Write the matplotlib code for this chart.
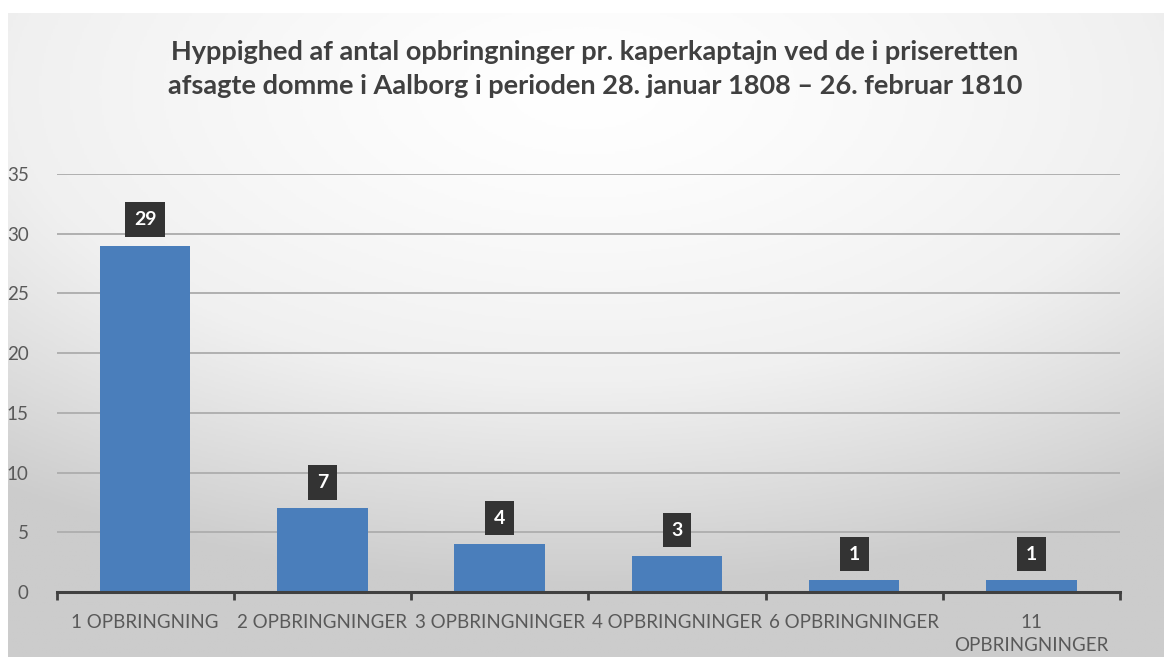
import matplotlib
matplotlib.use('Agg')
import numpy as np
from matplotlib import pyplot as plt
from matplotlib.colors import LinearSegmentedColormap

# data
categories = ['1 OPBRINGNING', '2 OPBRINGNINGER', '3 OPBRINGNINGER',
              '4 OPBRINGNINGER', '6 OPBRINGNINGER', '11\nOPBRINGNINGER']
counts = [29, 7, 4, 3, 1, 1]
yticks = [0, 5, 10, 15, 20, 25, 30, 35]
title = ('Hyppighed af antal opbringninger pr. kaperkaptajn ved de i priseretten\n'
         'afsagte domme i Aalborg i perioden 28. januar 1808 \u2013 26. februar 1810')

W, H = 1164, 657
fig = plt.figure(figsize=(W / 100, H / 100), dpi=100)
fig.patch.set_facecolor('white')

# radial gradient background of the chart area
bg = fig.add_axes([8 / W, 0, 1 - 8 / W, 1 - 13 / H], zorder=-5)
yy, xx = np.mgrid[0:1:300j, 0:1:500j]
r = np.sqrt(((xx - 0.5) * 1.0) ** 2 + ((yy - 0.12) * 1.1) ** 2)
r = np.clip(r / 0.85, 0, 1) ** 1.3
cmap = LinearSegmentedColormap.from_list('bg', ['#ffffff', '#f0f0f0', '#cccccc'])
bg.imshow(r, cmap=cmap, aspect='auto', extent=[0, 1, 1, 0])
bg.axis('off')

ax = fig.add_axes([56.5 / W, 1 - 592 / H, (1120 - 56.5) / W, (592 - 174) / H])
ax.patch.set_alpha(0)

x = np.arange(len(categories))
bars = ax.bar(x, counts, width=0.51, color='#4a7ebb', zorder=3)

for xi, v in zip(x, counts):
    ax.annotate(str(v), (xi, v), xytext=(0, 26), textcoords='offset pixels',
                ha='center', va='center', color='white', fontsize=14,
                fontweight='bold', family='Lato', zorder=5,
                bbox=dict(boxstyle='square,pad=0.45', fc='#333333', ec='none'))

ax.set_xlim(-0.5, len(categories) - 0.5)
ax.set_ylim(0, 35)
ax.set_yticks(yticks)
ax.yaxis.grid(True, color='#b0b0b0', lw=1.4, zorder=0)
ax.set_axisbelow(True)
ax.tick_params(axis='y', length=0, pad=20, labelsize=13.5, labelcolor='#595959')
for lbl in ax.get_yticklabels():
    lbl.set_family('Lato')

ax.set_xticks(x)
ax.set_xticklabels(categories, fontsize=13.5, color='#595959', family='Lato',
                   linespacing=1.4)
ax.set_xticks(np.arange(-0.5, len(categories)), minor=True)
ax.tick_params(axis='x', which='major', length=0, pad=16)
ax.tick_params(axis='x', which='minor', length=6, width=2, color='#404040',
               direction='out')

for s in ['top', 'right', 'left']:
    ax.spines[s].set_visible(False)
ax.spines['bottom'].set_color('#404040')
ax.spines['bottom'].set_linewidth(2.2)
ax.spines['bottom'].set_zorder(4)

fig.text(595 / W, 1 - 69 / H, title, ha='center', va='center', fontsize=19.5,
         fontweight='bold', color='#404040', family='Lato', linespacing=1.5)

fig.savefig('out.png', dpi=100)
